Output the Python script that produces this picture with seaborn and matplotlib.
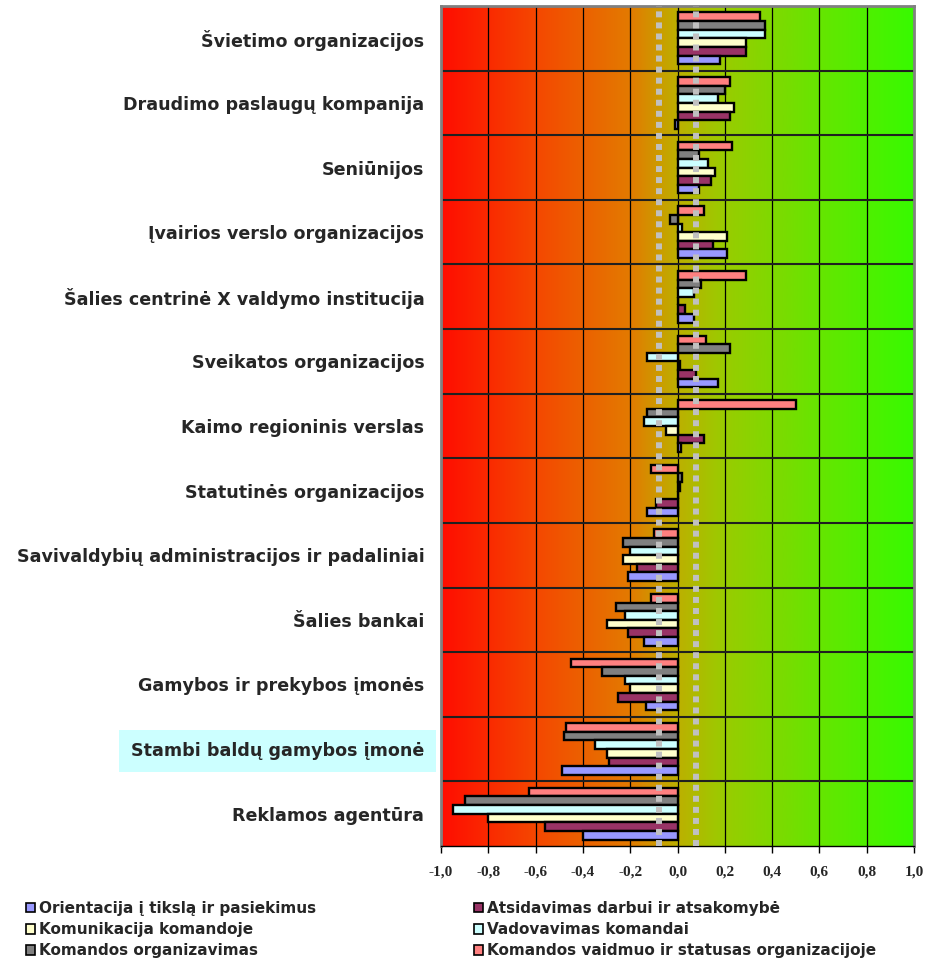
import numpy as np
import pandas as pd
import matplotlib
matplotlib.use("Agg")
import matplotlib.pyplot as plt
from matplotlib.colors import LinearSegmentedColormap
from matplotlib.patches import Patch
import seaborn as sns

categories = [
    "Švietimo organizacijos",
    "Draudimo paslaugų kompanija",
    "Seniūnijos",
    "Įvairios verslo organizacijos",
    "Šalies centrinė X valdymo institucija",
    "Sveikatos organizacijos",
    "Kaimo regioninis verslas",
    "Statutinės organizacijos",
    "Savivaldybių administracijos ir padaliniai",
    "Šalies bankai",
    "Gamybos ir prekybos įmonės",
    "Stambi baldų gamybos įmonė",
    "Reklamos agentūra",
]

series_names = [
    "Orientacija į tikslą ir pasiekimus",
    "Atsidavimas darbui ir atsakomybė",
    "Komunikacija komandoje",
    "Vadovavimas komandai",
    "Komandos organizavimas",
    "Komandos vaidmuo ir statusas organizacijoje",
]

orientacija = [0.18, -0.01, 0.09, 0.21, 0.07, 0.17, 0.015, -0.13, -0.21, -0.14, -0.135, -0.49, -0.40]
atsidavimas = [0.29, 0.22, 0.14, 0.15, 0.03, 0.08, 0.11, -0.09, -0.17, -0.21, -0.25, -0.29, -0.56]
komunikacija = [0.29, 0.24, 0.16, 0.21, 0.0, 0.01, -0.05, 0.0, -0.23, -0.30, -0.20, -0.30, -0.80]
vadovavimas = [0.37, 0.17, 0.13, 0.02, 0.07, -0.13, -0.14, 0.01, -0.20, -0.22, -0.22, -0.35, -0.95]
organizavimas = [0.37, 0.20, 0.09, -0.03, 0.10, 0.22, -0.13, 0.02, -0.23, -0.26, -0.32, -0.48, -0.90]
vaidmuo = [0.35, 0.22, 0.23, 0.11, 0.29, 0.12, 0.50, -0.11, -0.10, -0.11, -0.45, -0.47, -0.63]

series_colors = ["#9999ff", "#993366", "#ffffcc", "#ccffff", "#808080", "#ff8080"]

x_ticks = [-1.0, -0.8, -0.6, -0.4, -0.2, 0.0, 0.2, 0.4, 0.6, 0.8, 1.0]
threshold_lines = [-0.08, 0.08]
highlighted = "Stambi baldų gamybos įmonė"

values = [orientacija, atsidavimas, komunikacija, vadovavimas, organizavimas, vaidmuo]
rows = []
for name, vals in zip(series_names, values):
    for cat, v in zip(categories, vals):
        rows.append({"kategorija": cat, "serija": name, "reiksme": v})
df = pd.DataFrame(rows)

sns.set_style("white")
plt.rcParams["font.family"] = ["Liberation Sans", "DejaVu Sans"]

fig = plt.figure(figsize=(9.25, 9.75), dpi=100)
ax = fig.add_axes([441 / 925, 1 - 846 / 975, (914 - 441) / 925, (846 - 6) / 975])

palette = dict(zip(series_names, series_colors))
hue_order = series_names[::-1]  # first series drawn at the bottom of each group
sns.barplot(
    data=df, x="reiksme", y="kategorija", hue="serija", order=categories,
    hue_order=hue_order, palette=palette, orient="h", width=0.8, dodge=True,
    edgecolor="black", linewidth=1.7, saturation=1, legend=False, ax=ax, zorder=3,
)

n = len(categories)
ax.set_xlim(-1.0, 1.0)
ax.set_ylim(n - 0.5, -0.5)

# red-to-green background
grad = LinearSegmentedColormap.from_list(
    "rg",
    [(0.0, (1.0, 0.05, 0.0)), (0.2, (0.96, 0.28, 0.0)), (0.4, (0.89, 0.48, 0.0)),
     (0.5, (0.74, 0.69, 0.0)), (0.6, (0.60, 0.80, 0.0)), (0.8, (0.40, 0.90, 0.0)),
     (1.0, (0.22, 0.98, 0.0))],
)
ax.imshow(np.linspace(0, 1, 512)[None, :], cmap=grad, aspect="auto",
          extent=[-1, 1, n - 0.5, -0.5], zorder=0, interpolation="bilinear")

for xv in x_ticks[1:-1]:
    ax.axvline(xv, color="black", lw=0.9, zorder=1)
for i in range(n - 1):
    ax.axhline(i + 0.5, color="#202020", lw=1.5, zorder=1)

for xv in threshold_lines:
    ax.axvline(xv, color="#c0c0c0", lw=4.3, linestyle=(0, (1.0, 0.85)),
               solid_capstyle="butt", dash_capstyle="butt", zorder=5)

ax.set_xticks(x_ticks)
ax.set_xticklabels([f"{t:.1f}".replace(".", ",") for t in x_ticks],
                   fontfamily="Liberation Serif", fontweight="bold", fontsize=11)
ax.tick_params(axis="x", direction="out", length=5, width=1, color="black", pad=9,
               bottom=True)
ax.tick_params(axis="y", length=0, pad=12)
for lbl in ax.get_yticklabels():
    lbl.set_fontfamily(["DejaVu Sans"])
    lbl.set_fontweight("bold")
    lbl.set_fontsize(12.6)
    if lbl.get_text() == highlighted:
        lbl.set_bbox(dict(facecolor="#ccffff", edgecolor="none", pad=8.5))
ax.set_xlabel("")
ax.set_ylabel("")

for side in ["left", "top", "right"]:
    ax.spines[side].set_color("#808080")
    ax.spines[side].set_linewidth(2)
ax.spines["bottom"].set_color("black")
ax.spines["bottom"].set_linewidth(1)

handles = [Patch(facecolor=c, edgecolor="black", linewidth=1.2) for c in series_colors]
leg_kw = dict(frameon=False, handlelength=0.6, handleheight=0.6, handletextpad=0.25,
              labelspacing=0.4, prop={"family": "DejaVu Sans", "weight": "bold", "size": 11},
              borderaxespad=0, borderpad=0)
left_idx = [0, 2, 4]
right_idx = [1, 3, 5]
fig.legend([handles[i] for i in left_idx], [series_names[i] for i in left_idx],
           loc="upper left", bbox_to_anchor=(26 / 925, 1 - 901 / 975), **leg_kw)
fig.legend([handles[i] for i in right_idx], [series_names[i] for i in right_idx],
           loc="upper left", bbox_to_anchor=(474 / 925, 1 - 901 / 975), **leg_kw)

fig.savefig("out.png", dpi=100)
